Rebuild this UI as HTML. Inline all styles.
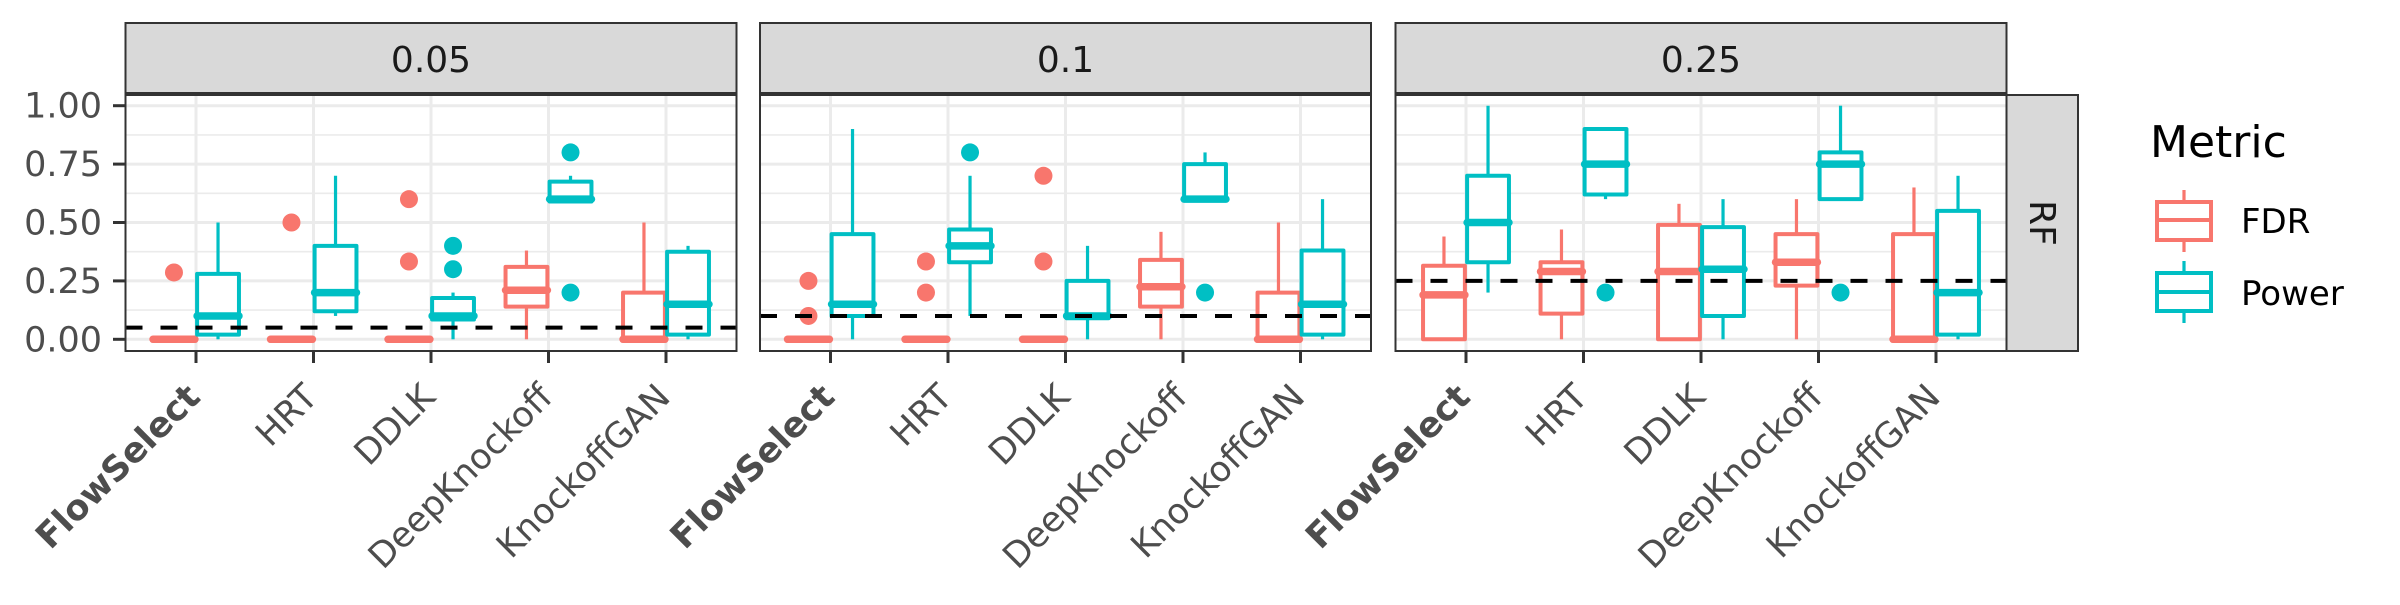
<!DOCTYPE html>
<html><head><meta charset="utf-8"><style>
html,body{margin:0;padding:0;background:#fff;}
svg text{font-family:"DejaVu Sans","Liberation Sans",sans-serif;}
</style></head><body>
<svg id="chart" width="2400" height="600" viewBox="0 0 2400 600" xmlns="http://www.w3.org/2000/svg"></svg>
<script>
const categories = ["FlowSelect","HRT","DDLK","DeepKnockoff","KnockoffGAN"];
const panelLabels = ["0.05","0.1","0.25"];
const thresholds = [0.05, 0.1, 0.25];
const yTicks = [0, 0.25, 0.5, 0.75, 1.0];
const yTickLabels = ["0.00","0.25","0.50","0.75","1.00"];
// each stat: [lowWhisker, q1, median, q3, highWhisker]
const fdrStats = [
 [[0,0,0,0,0],[0,0,0,0,0],[0,0,0,0,0],[0,0.14,0.21,0.31,0.38],[0,0,0,0.2,0.5]],
 [[0,0,0,0,0],[0,0,0,0,0],[0,0,0,0,0],[0,0.14,0.225,0.34,0.46],[0,0,0,0.2,0.5]],
 [[0,0,0.19,0.315,0.44],[0,0.11,0.29,0.33,0.47],[0,0,0.29,0.49,0.58],[0,0.23,0.33,0.45,0.6],[0,0,0,0.45,0.65]]
];
const powerStats = [
 [[0,0.02,0.1,0.28,0.5],[0.1,0.12,0.2,0.4,0.7],[0,0.085,0.1,0.177,0.2],[0.59,0.59,0.6,0.675,0.7],[0,0.02,0.15,0.375,0.4]],
 [[0,0.1,0.15,0.45,0.9],[0.1,0.33,0.4,0.47,0.7],[0,0.09,0.1,0.25,0.4],[0.6,0.6,0.6,0.75,0.8],[0,0.02,0.15,0.38,0.6]],
 [[0.2,0.33,0.5,0.7,1.0],[0.6,0.62,0.75,0.9,0.9],[0,0.1,0.3,0.48,0.6],[0.6,0.6,0.75,0.8,1.0],[0,0.02,0.2,0.55,0.7]]
];
const fdrOutliers = [
 [[0.286],[0.5],[0.6,0.333],[],[]],
 [[0.25,0.1],[0.333,0.2],[0.7,0.333],[],[]],
 [[],[],[],[],[]]
];
const powerOutliers = [
 [[],[],[0.4,0.3],[0.8,0.2],[]],
 [[],[0.8],[],[0.2],[]],
 [[],[0.2],[],[0.2],[]]
];

const svg = document.getElementById('chart');
const NS = "http://www.w3.org/2000/svg";
function mk(tag, attrs, parent){
  const e = document.createElementNS(NS, tag);
  for (const k in attrs) e.setAttribute(k, attrs[k]);
  (parent||svg).appendChild(e);
  return e;
}
const panelLeft = [125.5, 760, 1395.5];
const panelW = 611;
const plotTop = 95, plotBot = 351, stripTop = 23, stripBot = 93;
const y0 = 339.3, yScale = 233.6;
function yv(v){ return y0 - v*yScale; }
function xc(p, i){ return panelLeft[p] + (i + 0.6) * panelW / 5.2; }
const unit = panelW/5.2;
const RED = "#F8766D", CYAN = "#00BFC4";

yTicks.forEach((t,k)=>{
  const tl = mk('text',{x:102,y:yv(t)+12,'text-anchor':'end','font-size':35,fill:'#4D4D4D'});
  
  
  tl.textContent = yTickLabels[k];
  const tk = mk('line',{x1:113,x2:125,y1:yv(t),y2:yv(t),stroke:'#333',"stroke-width":3});
  
  
});

function drawBox(g, cx, st, color, outl, name){
  const w = unit*0.375*0.95;
  const grp = mk('g',{},g);
  
  
  mk('line',{x1:cx,x2:cx,y1:yv(st[0]),y2:yv(st[1]),stroke:color,'stroke-width':3.2},grp);
  mk('line',{x1:cx,x2:cx,y1:yv(st[3]),y2:yv(st[4]),stroke:color,'stroke-width':3.2},grp);
  mk('rect',{x:cx-w/2,y:yv(st[3]),width:w,height:Math.max(0.01,yv(st[1])-yv(st[3])),fill:'#fff',stroke:color,'stroke-width':4,'stroke-linejoin':'round'},grp);
  mk('line',{x1:cx-w/2,x2:cx+w/2,y1:yv(st[2]),y2:yv(st[2]),stroke:color,'stroke-width':7.5,'stroke-linecap':'round'},grp);
  outl.forEach(o=>{
    const c = mk('circle',{cx:cx,cy:yv(o),r:9,fill:color},grp);
    
    
  });
}

for (let p=0;p<3;p++){
  const L = panelLeft[p];
  const g = mk('g',{});
  
  
  const st = mk('rect',{x:L,y:stripTop,width:panelW,height:stripBot-stripTop,fill:'#D9D9D9',stroke:'#333','stroke-width':2},g);
  
  
  const stt = mk('text',{x:L+panelW/2,y:72,'text-anchor':'middle','font-size':36,fill:'#1A1A1A'},g);
  
  
  stt.textContent = panelLabels[p];
  mk('rect',{x:L,y:plotTop,width:panelW,height:plotBot-plotTop,fill:'#fff'},g);
  for (let k=0;k<4;k++){
    const v = 0.125 + 0.25*k;
    mk('line',{x1:L,x2:L+panelW,y1:yv(v),y2:yv(v),stroke:'#EBEBEB','stroke-width':1.6},g);
  }
  yTicks.forEach(t=>mk('line',{x1:L,x2:L+panelW,y1:yv(t),y2:yv(t),stroke:'#EBEBEB','stroke-width':3},g));
  categories.forEach((c,i)=>mk('line',{x1:xc(p,i),x2:xc(p,i),y1:plotTop,y2:plotBot,stroke:'#EBEBEB','stroke-width':3},g));
  categories.forEach((c,i)=>{
    const off = unit*0.1875;
    drawBox(g, xc(p,i)-off, fdrStats[p][i], RED, fdrOutliers[p][i], 'fdr-box-'+c.toLowerCase());
    drawBox(g, xc(p,i)+off, powerStats[p][i], CYAN, powerOutliers[p][i], 'power-box-'+c.toLowerCase());
  });
  const th = mk('line',{x1:L,x2:L+panelW,y1:yv(thresholds[p]),y2:yv(thresholds[p]),stroke:'#000','stroke-width':4,'stroke-dasharray':'17 18'},g);
  
  
  mk('rect',{x:L,y:plotTop,width:panelW,height:plotBot-plotTop,fill:'none',stroke:'#333','stroke-width':2},g);
  categories.forEach((c,i)=>{
    const x = xc(p,i);
    mk('line',{x1:x,x2:x,y1:plotBot,y2:plotBot+12,stroke:'#333','stroke-width':3},g);
    const t = mk('text',{x:0,y:0,'text-anchor':'end','font-size':35,fill:'#4D4D4D','font-weight':i===0?'bold':'normal',transform:`translate(${x+6},${plotBot+48}) rotate(-45)`},g);
    
    
    t.textContent = c;
  });
}
const rf = mk('rect',{x:2006.5,y:plotTop,width:71.5,height:plotBot-plotTop,fill:'#D9D9D9',stroke:'#333','stroke-width':2});


const rft = mk('text',{x:0,y:0,'text-anchor':'middle','font-size':36,fill:'#1A1A1A',transform:'translate(2030,223) rotate(90)'});


rft.textContent = 'RF';

const lg = mk('g',{});


const lt = mk('text',{x:2150,y:157,'font-size':44,fill:'#000'},lg);


lt.textContent = 'Metric';
[["FDR",RED,202,240,220,233],["Power",CYAN,273,311,292,305]].forEach(([n,c,t,b,m,base])=>{
  const e = mk('g',{},lg);
  
  
  mk('line',{x1:2184,x2:2184,y1:t-12,y2:t,stroke:c,'stroke-width':3.2},e);
  mk('line',{x1:2184,x2:2184,y1:b,y2:b+12,stroke:c,'stroke-width':3.2},e);
  mk('rect',{x:2157,y:t,width:54,height:b-t,fill:'#fff',stroke:c,'stroke-width':4},e);
  mk('line',{x1:2157,x2:2211,y1:m,y2:m,stroke:c,'stroke-width':4},e);
  const tx = mk('text',{x:2241,y:base,'font-size':34,fill:'#000'},e);
  tx.textContent = n;
});
</script>
</body></html>
